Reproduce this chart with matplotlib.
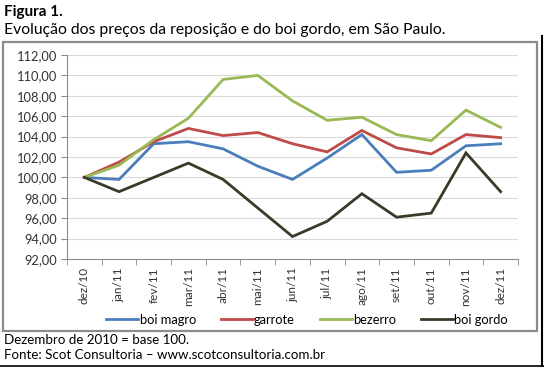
import matplotlib
import matplotlib.pyplot as plt
from matplotlib.patches import Rectangle
from matplotlib.lines import Line2D

matplotlib.use("Agg")

months = ["dez/10", "jan/11", "fev/11", "mar/11", "abr/11", "mai/11", "jun/11",
          "jul/11", "ago/11", "set/11", "out/11", "nov/11", "dez/11"]
boi_magro = [100.0, 99.8, 103.3, 103.5, 102.8, 101.1, 99.8, 101.9, 104.2, 100.5, 100.7, 103.1, 103.3]
garrote = [100.0, 101.5, 103.5, 104.8, 104.1, 104.4, 103.3, 102.5, 104.6, 102.9, 102.3, 104.2, 103.9]
bezerro = [100.0, 101.2, 103.7, 105.8, 109.6, 110.0, 107.5, 105.6, 105.9, 104.2, 103.6, 106.6, 104.9]
boi_gordo = [100.0, 98.6, 100.0, 101.4, 99.8, 97.0, 94.2, 95.7, 98.4, 96.1, 96.5, 102.4, 98.6]
series_names = ["boi magro", "garrote", "bezerro", "boi gordo"]
y_ticks = [92, 94, 96, 98, 100, 102, 104, 106, 108, 110, 112]

colors = ["#4A7EBB", "#BE4B48", "#98B954", "#3B3A28"]

plt.rcParams["font.family"] = ["Lato", "DejaVu Sans"]

W, H = 544, 367
fig = plt.figure(figsize=(W / 100, H / 100), dpi=100)

# figure texts
fig.text(4 / W, 1 - 12 / H, "Figura 1.", fontsize=11, fontweight="bold", va="center")
fig.text(4 / W, 1 - 30 / H, "Evolução dos preços da reposição e do boi gordo, em São Paulo.",
         fontsize=11.3, va="center")
fig.text(4 / W, 1 - 340 / H, "Dezembro de 2010 = base 100.", fontsize=9.6, va="center")
fig.text(4 / W, 1 - 355 / H, "Fonte: Scot Consultoria \u2013 www.scotconsultoria.com.br",
         fontsize=9.6, va="center")

# chart box and page edges
fig.add_artist(Rectangle((3 / W, 1 - 331 / H), 534 / W, 289 / H, transform=fig.transFigure,
                         fill=False, edgecolor="#8C8C8C", linewidth=1.6))
fig.add_artist(Line2D([0, 1], [1 - 365.5 / H] * 2, transform=fig.transFigure,
                      color="black", linewidth=1.2))
fig.add_artist(Line2D([541.5 / W] * 2, [1 - 365.5 / H, 1 - 36 / H], transform=fig.transFigure,
                      color="black", linewidth=1.5))

ax = fig.add_axes([67 / W, 1 - 259 / H, 451 / W, 204 / H])
x = range(len(months))
for vals, c, name in zip([boi_magro, garrote, bezerro, boi_gordo], colors, series_names):
    ax.plot(x, vals, color=c, linewidth=2.0, label=name, solid_joinstyle="miter")

ax.set_ylim(92, 112)
ax.set_xlim(-0.5, len(months) - 0.5)
ax.set_yticks(y_ticks)
ax.set_yticklabels([f"{v:.2f}".replace(".", ",") for v in y_ticks], fontsize=9.3, color="#333333")
ax.set_xticks(list(x))
ax.set_xticklabels(months, rotation=90, fontsize=8.5, color="#333333")
ax.tick_params(axis="x", length=0, pad=6)
ax.tick_params(axis="y", length=4, color="#8C8C8C", pad=3)
ax.set_xticks([i - 0.5 for i in range(len(months) + 1)], minor=True)
ax.tick_params(axis="x", which="minor", length=4, color="#8C8C8C")
ax.grid(axis="y", color="#D9D9D9", linewidth=0.8)
ax.set_axisbelow(True)
for s in ["top", "right"]:
    ax.spines[s].set_visible(False)
ax.spines["left"].set_color("#8C8C8C")
ax.spines["bottom"].set_color("#8C8C8C")

handles, labels = ax.get_legend_handles_labels()
fig.legend(handles, labels, loc="center", bbox_to_anchor=(307 / W, 1 - 320 / H), ncol=4,
           frameon=False, fontsize=9.3, handlelength=2.5, handletextpad=0.1, columnspacing=1.9)

fig.savefig("out.png", dpi=100)
